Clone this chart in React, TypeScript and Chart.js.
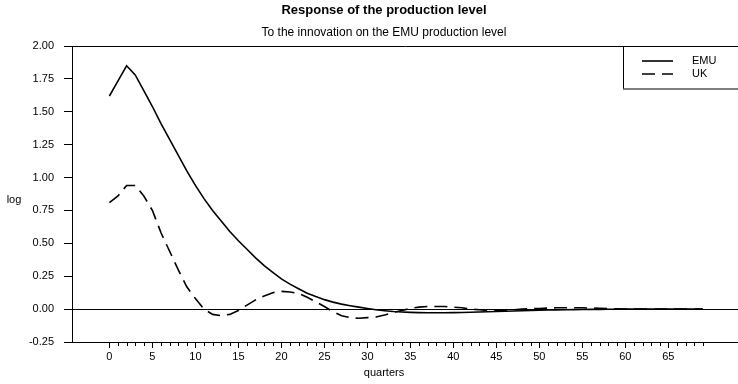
import React, { useEffect, useRef } from 'react';
import { Chart, registerables } from 'chart.js';

Chart.register(...registerables);

const FONT = "'Liberation Sans', Arial, Helvetica, sans-serif";

const quarters = [
  0, 1, 2, 3, 4, 5, 6, 7, 8, 9,
  10, 11, 12, 13, 14, 15, 16, 17, 18, 19,
  20, 21, 22, 23, 24, 25, 26, 27, 28, 29,
  30, 31, 32, 33, 34, 35, 36, 37, 38, 39,
  40, 41, 42, 43, 44, 45, 46, 47, 48, 49,
  50, 51, 52, 53, 54, 55, 56, 57, 58, 59,
  60, 61, 62, 63, 64, 65, 66, 67, 68, 69,
];

const emu = [
  1.62, 1.735, 1.85, 1.78, 1.66, 1.54, 1.41, 1.29, 1.17, 1.05,
  0.94, 0.84, 0.75, 0.67, 0.59, 0.52, 0.455, 0.39, 0.33, 0.28,
  0.23, 0.19, 0.155, 0.12, 0.095, 0.072, 0.053, 0.038, 0.026, 0.015,
  0.005, -0.005, -0.012, -0.018, -0.022, -0.025, -0.027, -0.028, -0.028, -0.028,
  -0.027, -0.026, -0.024, -0.022, -0.02, -0.018, -0.016, -0.014, -0.012, -0.01,
  -0.008, -0.007, -0.006, -0.005, -0.004, -0.003, -0.002, -0.002, -0.001, -0.001,
  0, 0, 0, 0, 0, 0, 0, 0, 0, 0,
];

const uk = [
  0.81, 0.86, 0.94, 0.94, 0.86, 0.75, 0.58, 0.44, 0.3, 0.17,
  0.08, 0.0, -0.04, -0.05, -0.04, -0.01, 0.03, 0.07, 0.1, 0.125,
  0.135, 0.13, 0.12, 0.09, 0.055, 0.02, -0.02, -0.05, -0.065, -0.07,
  -0.065, -0.06, -0.045, -0.025, -0.01, 0.005, 0.015, 0.02, 0.02, 0.02,
  0.015, 0.01, 0.0, -0.005, -0.01, -0.01, -0.01, -0.005, 0.0, 0.003,
  0.005, 0.008, 0.01, 0.01, 0.01, 0.01, 0.008, 0.006, 0.004, 0.002,
  0.0, 0.0, 0.0, 0.0, 0.0, 0.0, 0.0, 0.0, 0.0, 0.0,
];

const xLabelTicks = [0, 5, 10, 15, 20, 25, 30, 35, 40, 45, 50, 55, 60, 65];
const yTicks = [-0.25, 0, 0.25, 0.5, 0.75, 1.0, 1.25, 1.5, 1.75, 2.0];

const seriesNames = ['EMU', 'UK'];
const titleText = 'Response of the production level';
const subtitleText = 'To the innovation on the EMU production level';
const xTitle = 'quarters';
const yTitle = 'log';

const TEXT_CENTER_X = 384;

const extrasPlugin = {
  id: 'extras',
  afterDraw(chart: any) {
    const ctx = chart.ctx;
    const area = chart.chartArea;
    const xs = chart.scales.x;
    ctx.save();
    ctx.fillStyle = '#000';
    ctx.textAlign = 'center';
    ctx.textBaseline = 'middle';
    // titles
    ctx.font = `bold 13px ${FONT}`;
    ctx.fillText(titleText, TEXT_CENTER_X, 10);
    ctx.font = `12px ${FONT}`;
    ctx.fillText(subtitleText, TEXT_CENTER_X, 33);
    // x title
    ctx.font = `11px ${FONT}`;
    ctx.fillText(xTitle, TEXT_CENTER_X, 373);
    // minor x tick marks
    ctx.strokeStyle = '#000';
    ctx.lineWidth = 1;
    quarters.forEach((q) => {
      if (q % 5 === 0) return;
      const px = Math.round(xs.getPixelForValue(q)) + 0.5;
      ctx.beginPath();
      ctx.moveTo(px, area.bottom);
      ctx.lineTo(px, area.bottom + 4);
      ctx.stroke();
    });
    // y title
    ctx.font = `11px ${FONT}`;
    ctx.fillText(yTitle, 14, 200);
    // legend box
    const left = area.right - 115;
    const top = area.top;
    const bottom = top + 43;
    ctx.strokeStyle = '#000';
    ctx.lineWidth = 1;
    ctx.beginPath();
    ctx.moveTo(left + 0.5, top);
    ctx.lineTo(left + 0.5, bottom);
    ctx.stroke();
    ctx.strokeStyle = '#555';
    ctx.lineWidth = 1.5;
    ctx.beginPath();
    ctx.moveTo(left, bottom);
    ctx.lineTo(area.right + 2, bottom);
    ctx.stroke();
    const rows = [top + 15, top + 28];
    chart.data.datasets.forEach((ds: any, i: number) => {
      const y = rows[i];
      ctx.strokeStyle = '#000';
      ctx.lineWidth = ds.borderWidth;
      ctx.setLineDash(ds.borderDash || []);
      ctx.beginPath();
      ctx.moveTo(left + 19, y);
      ctx.lineTo(left + 50, y);
      ctx.stroke();
      ctx.setLineDash([]);
      ctx.font = `11px ${FONT}`;
      ctx.fillStyle = '#000';
      ctx.textAlign = 'left';
      ctx.textBaseline = 'middle';
      ctx.fillText(ds.label, left + 69, y);
    });
    ctx.restore();
  },
};

export default function App() {
  const ref = useRef<HTMLCanvasElement | null>(null);
  useEffect(() => {
    if (!ref.current) return;
    const chart = new Chart(ref.current, {
      type: 'line',
      data: {
        datasets: [
          {
            label: seriesNames[0],
            data: quarters.map((q, i) => ({ x: q, y: emu[i] })),
            borderColor: '#000',
            borderWidth: 1.6,
            pointRadius: 0,
            tension: 0,
            fill: false,
          },
          {
            label: seriesNames[1],
            data: quarters.map((q, i) => ({ x: q, y: uk[i] })),
            borderColor: '#000',
            borderWidth: 1.6,
            borderDash: [13, 7],
            pointRadius: 0,
            tension: 0,
            fill: false,
          },
        ],
      },
      options: {
        responsive: false,
        animation: false,
        devicePixelRatio: 1,
        layout: { padding: { top: 46, left: 0, right: 0, bottom: 0 } },
        plugins: {
          legend: { display: false },
          tooltip: { enabled: false },
          title: { display: false },
          subtitle: { display: false },
        },
        scales: {
          x: {
            type: 'linear',
            min: -4.35,
            max: 73.1,
            afterBuildTicks: (axis: any) => {
              axis.ticks = quarters.map((v) => ({ value: v }));
            },
            afterFit: (axis: any) => {
              axis.height = 42;
            },
            ticks: {
              autoSkip: false,
              maxRotation: 0,
              color: '#000',
              font: { family: FONT, size: 11 },
              padding: 2,
              callback: (v: any) => (xLabelTicks.includes(v) ? String(v) : ''),
            },
            grid: {
              drawOnChartArea: false,
              drawTicks: true,
              tickLength: 6,
              tickColor: (c: any) => (c.tick && c.tick.value % 5 === 0 ? '#000' : 'rgba(0,0,0,0)'),
            },
            border: { display: true, color: '#000', width: 1 },
          },
          y: {
            type: 'linear',
            min: -0.25,
            max: 2.0,
            afterBuildTicks: (axis: any) => {
              axis.ticks = yTicks.map((v) => ({ value: v }));
            },
            afterFit: (axis: any) => {
              axis.width = 72;
            },
            ticks: {
              color: '#000',
              font: { family: FONT, size: 11 },
              padding: 10,
              callback: (v: any) => Number(v).toFixed(2),
            },
            grid: {
              drawTicks: true,
              tickLength: 8,
              tickColor: '#000',
              lineWidth: 1,
              color: (c: any) =>
                c.tick && (c.tick.value === 0 || c.tick.value === 2) ? '#000' : 'rgba(0,0,0,0)',
            },
            border: { display: true, color: '#000', width: 1 },
          },
        },
      },
      plugins: [extrasPlugin],
    } as any);
    return () => chart.destroy();
  }, []);
  return (
    <div style={{ position: 'fixed', left: 0, top: 0, width: 738, height: 384, background: '#fff' }}>
      <canvas ref={ref} width={738} height={384} style={{ width: 738, height: 384, display: 'block' }} />
    </div>
  );
}
